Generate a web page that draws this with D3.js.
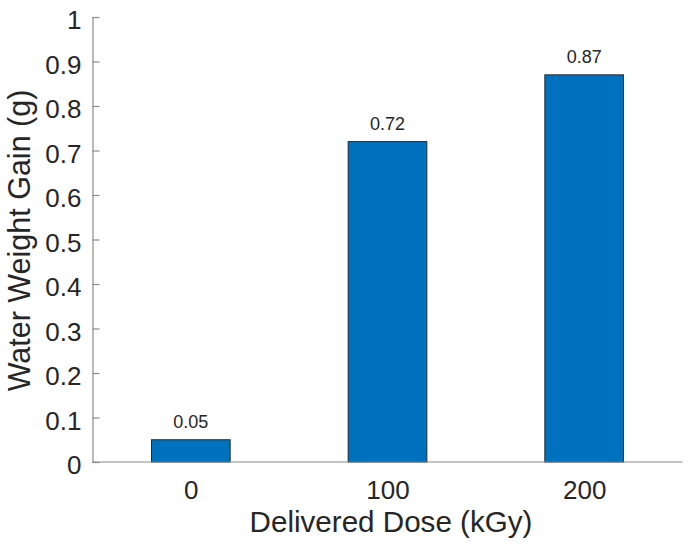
<!DOCTYPE html>
<html>
<head>
<meta charset="utf-8">
<script src="https://cdn.jsdelivr.net/npm/d3@7"></script>
<style>
  html, body { margin: 0; padding: 0; background: #fff; }
  svg { display: block; }
  text { font-family: "Liberation Sans", Arial, sans-serif; fill: #262626; }
</style>
</head>
<body>
<svg id="chart" width="688" height="548"></svg>
<script>
const categories = ["0", "100", "200"];
const values = [0.05, 0.72, 0.87];
const valueLabels = ["0.05", "0.72", "0.87"];
const yTicks = [0, 0.1, 0.2, 0.3, 0.4, 0.5, 0.6, 0.7, 0.8, 0.9, 1];
const yTickLabels = ["0", "0.1", "0.2", "0.3", "0.4", "0.5", "0.6", "0.7", "0.8", "0.9", "1"];
const xTitle = "Delivered Dose (kGy)";
const yTitle = "Water Weight Gain (g)";

(function () {
const svg = d3.select("#chart");
const mLeft = 92.5, mRight = 682.5, mTop = 17, mBottom = 462;

const x = d3.scalePoint().domain(categories).range([mLeft, mRight]).padding(0.5);
const y = d3.scaleLinear().domain([0, 1]).range([mBottom, mTop]);
const barW = x.step() * 0.4;
const axisColor = "#8a8a8a";
const textColor = "#2b2b2b";

// bars
svg.append("g").selectAll("rect").data(values).join("rect")
  .attr("x", (d, i) => x(categories[i]) - barW / 2)
  .attr("y", d => y(d))
  .attr("width", barW)
  .attr("height", d => y(0) - y(d))
  .attr("fill", "#0072BD")
  .attr("stroke", "#1f2a36")
  .attr("stroke-width", 1);

// value labels
svg.append("g").selectAll("text").data(values).join("text")
  .attr("x", (d, i) => x(categories[i]))
  .attr("y", d => y(d) - 12)
  .attr("text-anchor", "middle")
  .attr("font-size", 18)
  .attr("fill", textColor)
  .text((d, i) => valueLabels[i]);

// y axis
const yAxis = d3.axisLeft(y).tickValues(yTicks)
  .tickFormat((d, i) => yTickLabels[i])
  .tickSize(-7).tickPadding(11).tickSizeOuter(0);
const gy = svg.append("g").attr("transform", `translate(${mLeft},0)`).call(yAxis);
gy.select(".domain").attr("stroke", axisColor).attr("stroke-width", 1.2);
gy.selectAll(".tick line").attr("stroke", axisColor).attr("stroke-width", 1.2);
gy.selectAll(".tick text").attr("font-size", 26).attr("fill", textColor)
  .attr("dy", "0.45em")
  .attr("font-family", "Liberation Sans, Arial, sans-serif");

// x axis
const xAxis = d3.axisBottom(x).tickSize(0).tickPadding(18.5).tickSizeOuter(0);
const gx = svg.append("g").attr("transform", `translate(0,${mBottom})`).call(xAxis);
gx.select(".domain").attr("stroke", axisColor).attr("stroke-width", 1.2)
  .attr("d", `M${mLeft},0H${mRight}`);
gx.selectAll(".tick text").attr("font-size", 26).attr("fill", textColor)
  .attr("font-family", "Liberation Sans, Arial, sans-serif");

// titles
svg.append("text")
  .attr("x", (mLeft + mRight) / 2 + 3.5).attr("y", 532)
  .attr("text-anchor", "middle").attr("font-size", 29.6)
  .attr("fill", textColor)
  .text(xTitle);
svg.append("text")
  .attr("transform", `translate(30,${(mTop + mBottom) / 2 + 1}) rotate(-90)`)
  .attr("text-anchor", "middle").attr("font-size", 30.5)
  .attr("fill", textColor)
  .text(yTitle);
})();
</script>
</body>
</html>
